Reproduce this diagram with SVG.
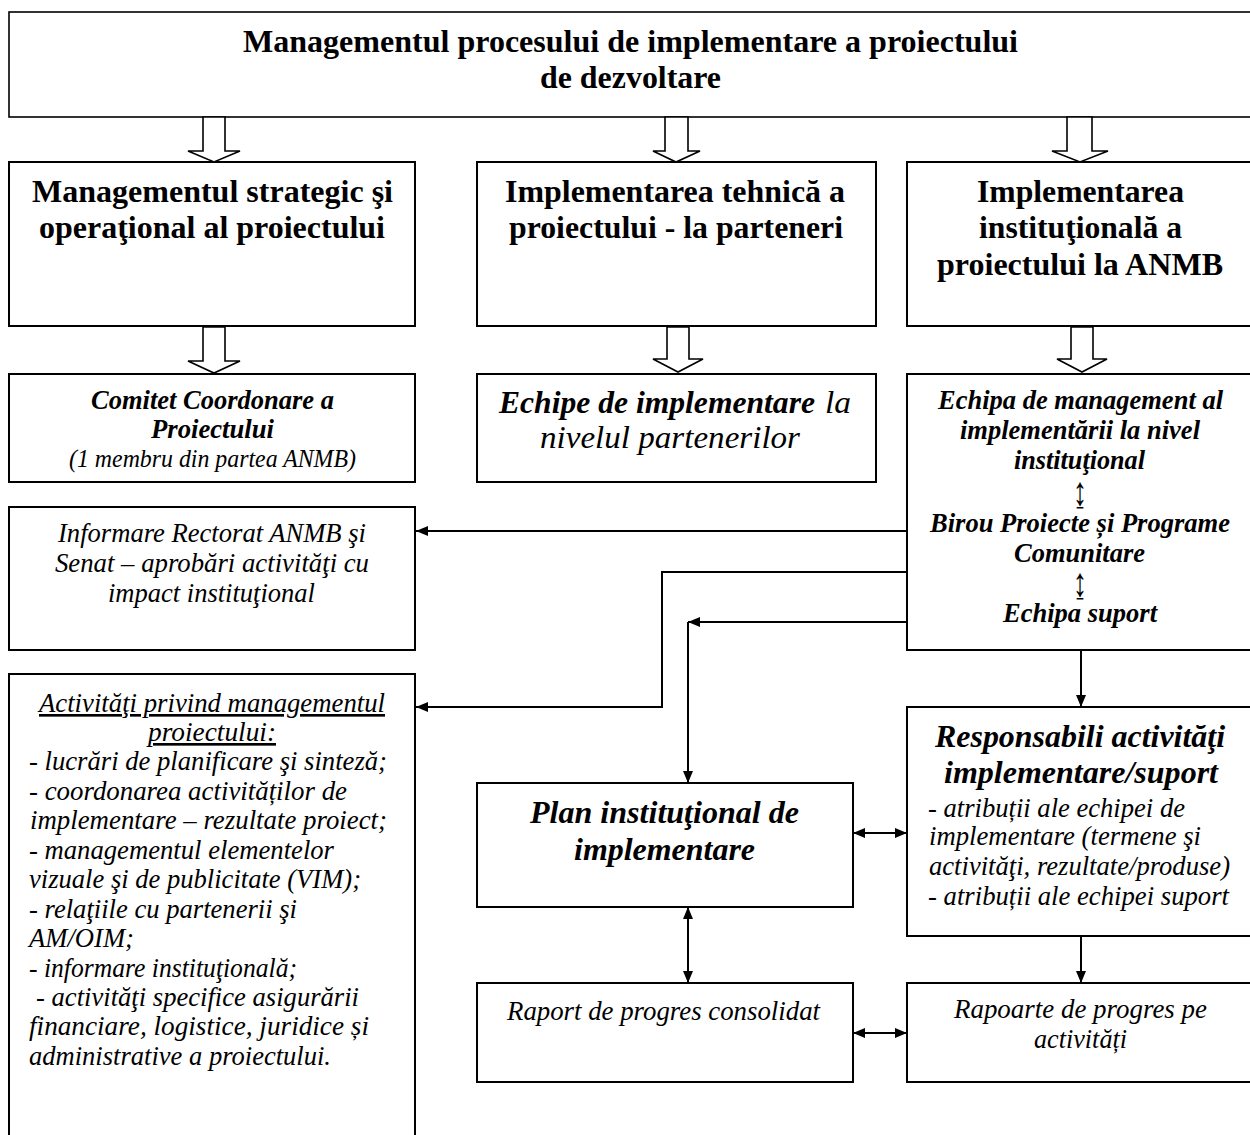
<svg xmlns="http://www.w3.org/2000/svg" width="1250" height="1135" viewBox="0 0 1250 1135">
<defs>
<style>
.box{fill:#fff;stroke:#000;stroke-width:2}
.hollow{fill:#fff;stroke:#000;stroke-width:1.6;stroke-linejoin:miter}
.conn{fill:none;stroke:#000;stroke-width:2}
text{font-family:"Liberation Serif","Times New Roman",serif;fill:#000}
.h{font-size:32px;font-weight:bold}
.bi{font-weight:bold;font-style:italic}
.it{font-style:italic}
.s25{font-size:25px}
.s26{font-size:26.5px}
.s27{font-size:27px}
.s32{font-size:32px}
.s33{font-size:32.5px}
.sym{font-family:"Liberation Serif","DejaVu Serif",serif;font-size:26px}
</style>
<marker id="ah" viewBox="0 0 12 10" refX="12" refY="5" markerWidth="12" markerHeight="10" markerUnits="userSpaceOnUse" orient="auto-start-reverse">
<path d="M0,0 L12,5 L0,10 Z" fill="#000"/>
</marker>
</defs>
<rect width="1250" height="1135" fill="#fff"/>

<g id="n-top">
<rect class="box" x="9" y="12" width="1260" height="105" style="stroke-width:1.6"/>
<text class="h" x="243" y="52" textLength="775" lengthAdjust="spacingAndGlyphs">Managementul procesului de implementare a proiectului</text>
<text class="h" x="540" y="88" textLength="181" lengthAdjust="spacingAndGlyphs">de dezvoltare</text>
</g>

<g id="n-strategic">
<rect class="box" x="9" y="162" width="406" height="164"/>
<text class="h" x="32" y="202" textLength="361" lengthAdjust="spacingAndGlyphs">Managementul strategic şi</text>
<text class="h" x="39" y="238" textLength="346" lengthAdjust="spacingAndGlyphs">operaţional al proiectului</text>
</g>

<g id="n-tehnica">
<rect class="box" x="477" y="162" width="399" height="164"/>
<text class="h" x="505" y="202" textLength="340" lengthAdjust="spacingAndGlyphs">Implementarea tehnică a</text>
<text class="h" x="509" y="238" textLength="334" lengthAdjust="spacingAndGlyphs">proiectului - la parteneri</text>
</g>

<g id="n-institutionala">
<rect class="box" x="907" y="162" width="360" height="164"/>
<text class="h" x="977" y="202" textLength="207" lengthAdjust="spacingAndGlyphs">Implementarea</text>
<text class="h" x="979" y="238" textLength="203" lengthAdjust="spacingAndGlyphs">instituţională a</text>
<text class="h" x="937" y="275" textLength="286" lengthAdjust="spacingAndGlyphs">proiectului la ANMB</text>
</g>

<g id="n-comitet">
<rect class="box" x="9" y="374" width="406" height="108"/>
<text class="bi s26" x="91" y="409" textLength="243" lengthAdjust="spacingAndGlyphs">Comitet Coordonare a</text>
<text class="bi s26" x="151" y="438" textLength="123" lengthAdjust="spacingAndGlyphs">Proiectului</text>
<text class="it s25" x="69" y="467" textLength="287" lengthAdjust="spacingAndGlyphs">(1 membru din partea ANMB)</text>
</g>

<g id="n-echipe">
<rect class="box" x="477" y="374" width="399" height="108"/>
<text class="bi s33" x="499" y="413" textLength="316" lengthAdjust="spacingAndGlyphs">Echipe de implementare</text>
<text class="it s33" x="825" y="413" textLength="26" lengthAdjust="spacingAndGlyphs">la</text>
<text class="it s33" x="540" y="448" textLength="260" lengthAdjust="spacingAndGlyphs">nivelul partenerilor</text>
</g>

<g id="n-echipa-management">
<rect class="box" x="907" y="374" width="360" height="276"/>
<text class="bi s27" x="938" y="409" textLength="285" lengthAdjust="spacingAndGlyphs">Echipa de management al</text>
<text class="bi s27" x="960" y="439" textLength="240" lengthAdjust="spacingAndGlyphs">implementării la nivel</text>
<text class="bi s27" x="1014" y="469" textLength="131" lengthAdjust="spacingAndGlyphs">instituţional</text>
<text class="sym" x="0" y="0" text-anchor="middle" transform="translate(1080,505) scale(1.1,1.55)">↨</text>
<text class="bi s27" x="930" y="532" textLength="300" lengthAdjust="spacingAndGlyphs">Birou Proiecte și Programe</text>
<text class="bi s27" x="1014" y="562" textLength="131" lengthAdjust="spacingAndGlyphs">Comunitare</text>
<text class="sym" x="0" y="0" text-anchor="middle" transform="translate(1080,596) scale(1.1,1.55)">↨</text>
<text class="bi s27" x="1003" y="622" textLength="154" lengthAdjust="spacingAndGlyphs">Echipa suport</text>
</g>

<g id="n-informare">
<rect class="box" x="9" y="507" width="406" height="143"/>
<text class="it s26" x="58" y="542" textLength="308" lengthAdjust="spacingAndGlyphs">Informare Rectorat ANMB şi</text>
<text class="it s26" x="55" y="572" textLength="314" lengthAdjust="spacingAndGlyphs">Senat – aprobări activităţi cu</text>
<text class="it s26" x="108" y="602" textLength="207" lengthAdjust="spacingAndGlyphs">impact instituţional</text>
</g>

<g id="n-activitati">
<rect class="box" x="9" y="674" width="406" height="480"/>
<text class="it s26" x="39" y="712" textLength="346" lengthAdjust="spacingAndGlyphs" text-decoration="underline">Activităţi privind managementul</text>
<text class="it s26" x="148" y="741" textLength="128" lengthAdjust="spacingAndGlyphs" text-decoration="underline">proiectului:</text>
<text class="it s26" x="29" y="770" textLength="358" lengthAdjust="spacingAndGlyphs">- lucrări de planificare şi sinteză;</text>
<text class="it s26" x="29" y="800" textLength="318" lengthAdjust="spacingAndGlyphs">- coordonarea activităților de</text>
<text class="it s26" x="30" y="829" textLength="357" lengthAdjust="spacingAndGlyphs">implementare – rezultate proiect;</text>
<text class="it s26" x="29" y="859" textLength="305" lengthAdjust="spacingAndGlyphs">- managementul elementelor</text>
<text class="it s26" x="29" y="888" textLength="332" lengthAdjust="spacingAndGlyphs">vizuale şi de publicitate (VIM);</text>
<text class="it s26" x="29" y="918" textLength="268" lengthAdjust="spacingAndGlyphs">- relaţiile cu partenerii şi</text>
<text class="it s26" x="29" y="947" textLength="105" lengthAdjust="spacingAndGlyphs">AM/OIM;</text>
<text class="it s26" x="29" y="977" textLength="268" lengthAdjust="spacingAndGlyphs">- informare instituţională;</text>
<text class="it s26" x="36" y="1006" textLength="323" lengthAdjust="spacingAndGlyphs">- activităţi specifice asigurării</text>
<text class="it s26" x="29" y="1035" textLength="340" lengthAdjust="spacingAndGlyphs">financiare,  logistice, juridice și</text>
<text class="it s26" x="29" y="1065" textLength="302" lengthAdjust="spacingAndGlyphs">administrative a proiectului.</text>
</g>

<g id="n-plan">
<rect class="box" x="477" y="783" width="376" height="124"/>
<text class="bi s32" x="530" y="823" textLength="269" lengthAdjust="spacingAndGlyphs">Plan instituţional de</text>
<text class="bi s32" x="574" y="860" textLength="181" lengthAdjust="spacingAndGlyphs">implementare</text>
</g>

<g id="n-responsabili">
<rect class="box" x="907" y="707" width="360" height="229"/>
<text class="bi s32" x="935" y="747" textLength="290" lengthAdjust="spacingAndGlyphs">Responsabili activităţi</text>
<text class="bi s32" x="944" y="783" textLength="274" lengthAdjust="spacingAndGlyphs">implementare/suport</text>
<text class="it s26" x="928" y="817" textLength="257" lengthAdjust="spacingAndGlyphs">- atribuții ale echipei de</text>
<text class="it s26" x="929" y="845" textLength="272" lengthAdjust="spacingAndGlyphs">implementare (termene şi</text>
<text class="it s26" x="929" y="875" textLength="301" lengthAdjust="spacingAndGlyphs">activităţi, rezultate/produse)</text>
<text class="it s26" x="928" y="905" textLength="301" lengthAdjust="spacingAndGlyphs">- atribuții ale echipei suport</text>
</g>

<g id="n-raport">
<rect class="box" x="477" y="983" width="376" height="99"/>
<text class="it s27" x="507" y="1020" textLength="313" lengthAdjust="spacingAndGlyphs">Raport de progres consolidat</text>
</g>

<g id="n-rapoarte">
<rect class="box" x="907" y="983" width="360" height="99"/>
<text class="it s26" x="954" y="1018" textLength="253" lengthAdjust="spacingAndGlyphs">Rapoarte de progres pe</text>
<text class="it s26" x="1034" y="1048" textLength="93" lengthAdjust="spacingAndGlyphs">activități</text>
</g>

<g id="connectors">
<polygon class="hollow" points="203,117 225,117 225,151 240,151 214,162 188,151 203,151"/>
<polygon class="hollow" points="665,117 688,117 688,151 700,151 676,162 653,151 665,151"/>
<polygon class="hollow" points="1067,117 1092,117 1092,151 1108,151 1080,162 1052,151 1067,151"/>
<polygon class="hollow" points="203,327 225,327 225,361 240,361 214,373 188,361 203,361"/>
<polygon class="hollow" points="667,327 689,327 689,359 703,359 678,372 653,359 667,359"/>
<polygon class="hollow" points="1071,327 1093,327 1093,359 1107,359 1082,372 1057,359 1071,359"/>
<path class="conn" d="M907,531 H416" marker-end="url(#ah)"/>
<path class="conn" d="M907,572 H662 V707 H416" marker-end="url(#ah)"/>
<path class="conn" d="M907,622 H688" marker-end="url(#ah)"/>
<path class="conn" d="M688,622 V783" marker-end="url(#ah)"/>
<path class="conn" d="M1081,650 V707" marker-end="url(#ah)"/>
<path class="conn" d="M853,833 H907" marker-start="url(#ah)" marker-end="url(#ah)"/>
<path class="conn" d="M688,907 V983" marker-start="url(#ah)" marker-end="url(#ah)"/>
<path class="conn" d="M1081,936 V983" marker-end="url(#ah)"/>
<path class="conn" d="M853,1033 H907" marker-start="url(#ah)" marker-end="url(#ah)"/>
</g>
</svg>
